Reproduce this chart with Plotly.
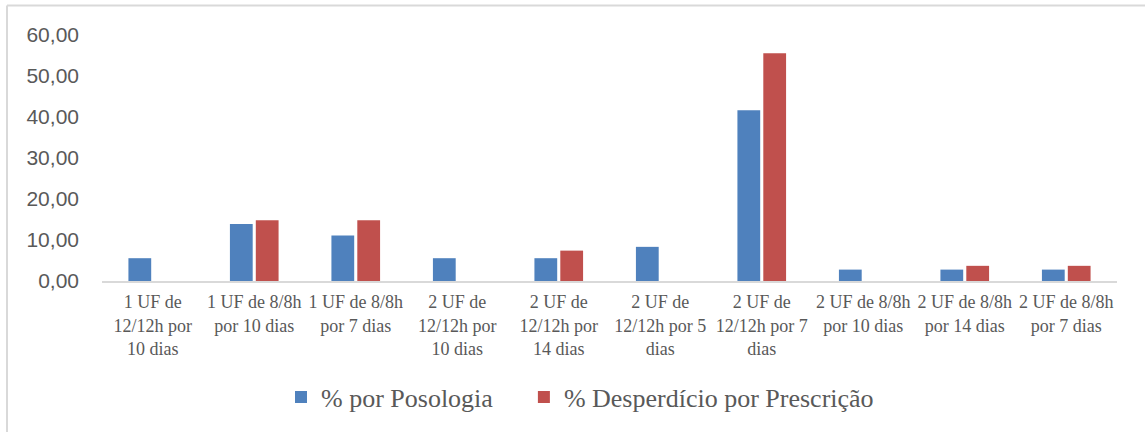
import plotly.graph_objects as go

categories = [
    "1 UF de<br>12/12h por<br>10 dias",
    "1 UF de 8/8h<br>por 10 dias",
    "1 UF de 8/8h<br>por 7 dias",
    "2 UF de<br>12/12h por<br>10 dias",
    "2 UF de<br>12/12h por<br>14 dias",
    "2 UF de<br>12/12h por 5<br>dias",
    "2 UF de<br>12/12h por 7<br>dias",
    "2 UF de 8/8h<br>por 10 dias",
    "2 UF de 8/8h<br>por 14 dias",
    "2 UF de 8/8h<br>por 7 dias",
]
series_names = ["% por Posologia", "% Desperdício por Prescrição"]
posologia = [5.56, 13.89, 11.11, 5.56, 5.56, 8.33, 41.67, 2.78, 2.78, 2.78]
desperdicio = [0, 14.81, 14.81, 0, 7.41, 0, 55.56, 0, 3.70, 3.70]
y_ticks = [0, 10, 20, 30, 40, 50, 60]

W, H = 1145, 432
L, R, T, B = 102, 1117, 35, 281
SERIF = "Liberation Serif"

fig = go.Figure()
fig.add_trace(go.Bar(name=series_names[0] + "\u00a0" * 4, x=categories, y=posologia,
                     marker=dict(color="#4F81BD", line=dict(width=0))))
fig.add_trace(go.Bar(name=series_names[1], x=categories, y=desperdicio,
                     marker=dict(color="#C0504D", line=dict(width=0))))

def px_x(x):
    return (x - L) / (R - L)

def px_y(y):
    return (B - y) / (B - T)

fig.update_layout(
    width=W, height=H,
    margin=dict(l=L, r=W - R, t=T, b=H - B),
    paper_bgcolor="white", plot_bgcolor="white",
    barmode="group", bargap=0.49, bargroupgap=0.12,
    separators=",.",
    showlegend=True,
    legend=dict(orientation="h", x=px_x(281), xanchor="left",
                y=px_y(397), yanchor="middle",
                font=dict(family=SERIF, size=26, color="#595959"),
                itemwidth=30, traceorder="normal"),
    xaxis=dict(showline=True, linecolor="#d9d9d9", linewidth=1.5,
               showgrid=False, ticks="", ticklabelstandoff=4,
               tickfont=dict(family=SERIF, size=18, color="#595959"),
               tickangle=0),
    yaxis=dict(range=[0, 60], tickvals=y_ticks, tickformat=".2f",
               showgrid=False, showline=False, zeroline=False, ticks="",
               ticklabelstandoff=22,
               tickfont=dict(family="Liberation Sans", size=21, color="#595959")),
    shapes=[
        dict(type="line", xref="paper", yref="paper",
             x0=px_x(7), x1=px_x(1145), y0=px_y(5.5), y1=px_y(5.5),
             line=dict(color="#d9d9d9", width=2)),
        dict(type="line", xref="paper", yref="paper",
             x0=px_x(7), x1=px_x(7), y0=px_y(5.5), y1=px_y(432),
             line=dict(color="#d9d9d9", width=2)),
    ],
)

fig.write_html("out.html", config={"displayModeBar": False},
               post_script="document.body.style.margin='0';document.body.style.padding='0';")
